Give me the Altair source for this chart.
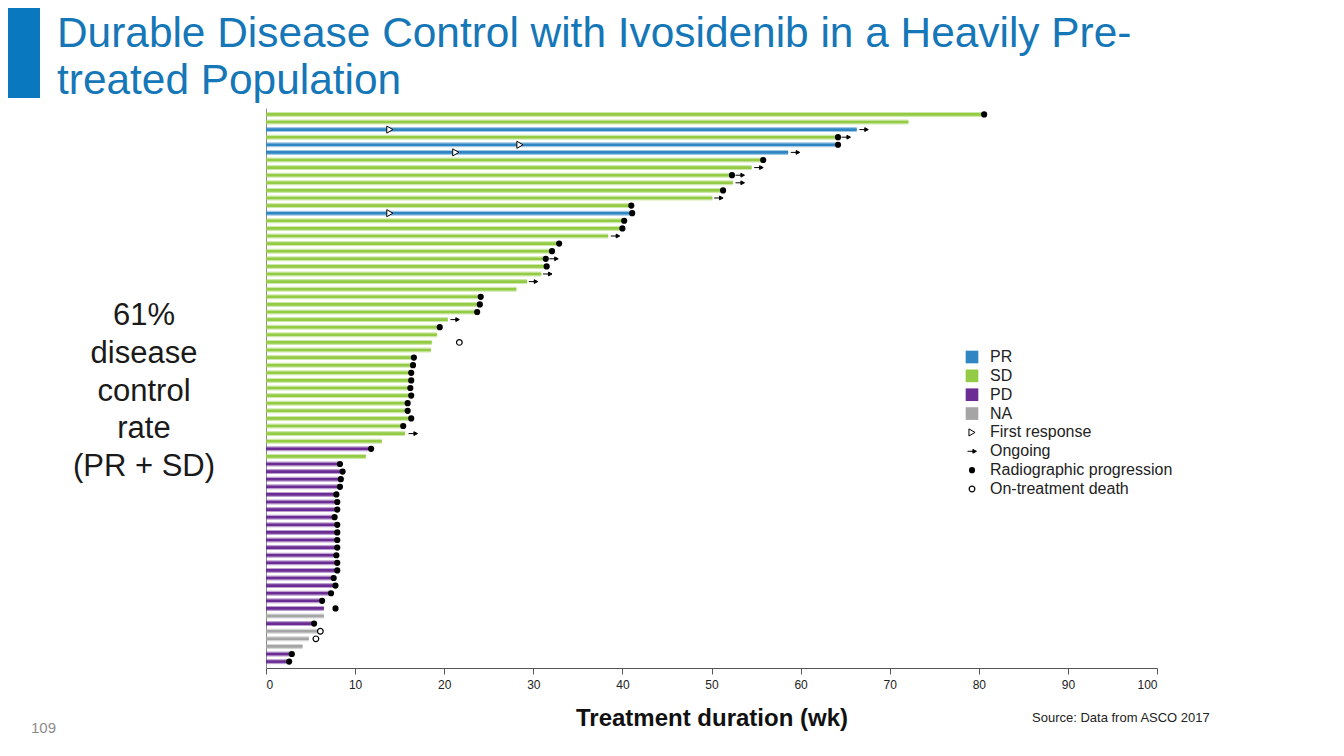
import altair as alt
import pandas as pd

# ---- data (weeks) ----
status = ["SD", "SD", "PR", "SD", "PR", "PR", "SD", "SD", "SD", "SD",
          "SD", "SD", "SD", "PR", "SD", "SD", "SD", "SD", "SD", "SD",
          "SD", "SD", "SD", "SD", "SD", "SD", "SD", "SD", "SD", "SD",
          "SD", "SD", "SD", "SD", "SD", "SD", "SD", "SD", "SD", "SD",
          "SD", "SD", "SD", "SD", "PD", "SD", "PD", "PD", "PD", "PD",
          "PD", "PD", "PD", "PD", "PD", "PD", "PD", "PD", "PD", "PD",
          "PD", "PD", "PD", "PD", "PD", "PD", "NA", "PD", "NA", "NA",
          "NA", "PD", "PD"]
duration = [80.6, 72.1, 66.3, 64.2, 64.2, 58.6, 55.8, 54.5, 52.3, 52.4,
            51.3, 50.1, 41.0, 41.1, 40.2, 40.0, 38.4, 32.9, 32.1, 31.4,
            31.5, 30.9, 29.3, 28.1, 24.1, 24.0, 23.7, 20.4, 19.5, 19.2,
            18.6, 18.5, 16.6, 16.5, 16.3, 16.3, 16.2, 16.3, 15.9, 15.9,
            16.3, 15.4, 15.6, 13.0, 11.8, 11.2, 8.3, 8.6, 8.4, 8.3,
            7.9, 8.0, 8.0, 7.7, 8.0, 8.0, 8.0, 8.0, 7.9, 8.0,
            8.0, 7.6, 7.8, 7.3, 6.2, 6.5, 6.5, 5.4, 5.9, 4.8,
            4.1, 2.9, 2.6]
N = None
progression = [80.6, N, N, 64.2, 64.2, N, 55.8, N, 52.3, N,
               51.3, N, 41.0, 41.1, 40.2, 40.0, N, 32.9, 32.1, 31.4,
               31.5, N, N, N, 24.1, 24.0, 23.7, N, 19.5, N,
               N, N, 16.6, 16.5, 16.3, 16.3, 16.2, 16.3, 15.9, 15.9,
               16.3, 15.4, N, N, 11.8, N, 8.3, 8.6, 8.4, 8.3,
               7.9, 8.0, 8.0, 7.7, 8.0, 8.0, 8.0, 8.0, 7.9, 8.0,
               8.0, 7.6, 7.8, 7.3, 6.3, 7.8, N, 5.4, N, N,
               N, 2.9, 2.6]
ongoing = [N, N, 67.1, 65.1, N, 59.4, N, 55.3, 53.2, 53.2,
           N, 50.8, N, N, N, N, 39.2, N, N, 32.3,
           N, 31.6, 30.0, N, N, N, N, 21.2, N, N,
           N, N, N, N, N, N, N, N, N, N,
           N, N, 16.5, N, N, N, N, N, N, N,
           N, N, N, N, N, N, N, N, N, N,
           N, N, N, N, N, N, N, N, N, N,
           N, N, N]
first_response = [N, N, 13.9, N, 28.5, 21.3, N, N, N, N,
                  N, N, N, 13.9] + [N] * 59
death = [N] * 30 + [21.7] + [N] * 37 + [6.1, 5.6] + [N] * 3

legend_labels = ["PR", "SD", "PD", "NA", "First response", "Ongoing",
                 "Radiographic progression", "On-treatment death"]
status_domain = ["PR", "SD", "PD", "NA"]
status_colors = ["#2F86C3", "#93CB45", "#6B2D94", "#A5A5A5"]

title_lines = ["Durable Disease Control with Ivosidenib in a Heavily Pre-",
               "treated Population"]
side_lines = ["61%", "disease", "control", "rate", "(PR + SD)"]
x_title = "Treatment duration (wk)"
source_text = "Source: Data from ASCO 2017"
page_number = "109"
x_ticks = list(range(0, 101, 10))

df = pd.DataFrame({
    "row": list(range(1, len(status) + 1)),
    "status": status,
    "duration": duration,
    "progression": progression,
    "ongoing": ongoing,
    "first_response": first_response,
    "death": death,
})
leg = pd.DataFrame({"label": legend_labels})

FONT = "Liberation Sans"
W, H = 891, 560
ARROW = "M-1,0L0.25,0M0.2,-0.42L1,0L0.2,0.42Z"

color_scale = alt.Scale(domain=status_domain, range=status_colors)
yenc = alt.Y("row:O", scale=alt.Scale(type="point", padding=0.84),
             axis=alt.Axis(labels=False, ticks=False, title=None, grid=False,
                           domain=True, domainColor="#8a8a8a", domainWidth=1))
xaxis = alt.Axis(values=x_ticks, title=None, grid=False, tickSize=6,
                 labelFontSize=12, labelPadding=5, labelFont=FONT,
                 labelColor="#222", domainColor="#555", tickColor="#555")
xscale = alt.Scale(domain=[0, 100], nice=False)

base = alt.Chart(df)
bars_light = base.mark_bar(size=5, opacity=0.45).encode(
    x=alt.X("duration:Q", scale=xscale, axis=xaxis),
    y=yenc,
    color=alt.Color("status:N", scale=color_scale, legend=None),
)
bars_dark = base.mark_bar(size=2.6).encode(
    x=alt.X("duration:Q", scale=xscale, axis=xaxis),
    y=yenc,
    color=alt.Color("status:N", scale=color_scale, legend=None),
)
tri = base.transform_filter("datum.first_response != null").mark_point(
    shape="triangle-right", size=50, fill="white", stroke="black",
    strokeWidth=1, opacity=1).encode(x="first_response:Q", y=yenc)
arr = base.transform_filter("datum.ongoing != null").mark_point(
    shape=ARROW, size=80, fill="black", stroke="black", strokeWidth=1,
    opacity=1).encode(x="ongoing:Q", y=yenc)
dots = base.transform_filter("datum.progression != null").mark_circle(
    size=38, color="black", opacity=1).encode(x="progression:Q", y=yenc)
deaths = base.transform_filter("datum.death != null").mark_point(
    shape="circle", size=32, fill="white", stroke="black", strokeWidth=1.2,
    opacity=1).encode(x="death:Q", y=yenc)

main = alt.layer(bars_light, bars_dark, tri, arr, dots, deaths)

# ---- legend ----
ly = alt.Y("label:N", scale=alt.Scale(type="point", domain=legend_labels,
                                      range=[249, 381], padding=0), axis=None)
lbase = alt.Chart(leg)
lx_sym = alt.value(706)
leg_sq = lbase.transform_filter(
    alt.FieldOneOfPredicate(field="label", oneOf=status_domain)
).mark_square(size=160, opacity=1).encode(
    x=lx_sym, y=ly,
    color=alt.Color("label:N", scale=color_scale, legend=None))
leg_tri = lbase.transform_filter("datum.label == 'First response'").mark_point(
    shape="triangle-right", size=50, fill="white", stroke="black",
    strokeWidth=1, opacity=1).encode(x=lx_sym, y=ly)
leg_arr = lbase.transform_filter("datum.label == 'Ongoing'").mark_point(
    shape=ARROW, size=80, fill="black", stroke="black", strokeWidth=1,
    opacity=1).encode(x=lx_sym, y=ly)
leg_dot = lbase.transform_filter(
    "datum.label == 'Radiographic progression'").mark_circle(
    size=38, color="black", opacity=1).encode(x=lx_sym, y=ly)
leg_death = lbase.transform_filter(
    "datum.label == 'On-treatment death'").mark_point(
    shape="circle", size=32, fill="white", stroke="black", strokeWidth=1.2,
    opacity=1).encode(x=lx_sym, y=ly)
leg_txt = lbase.mark_text(align="left", baseline="middle", fontSize=16,
                          font=FONT, color="#222").encode(
    x=alt.value(724), y=ly, text="label:N")
legend = alt.layer(leg_sq, leg_tri, leg_arr, leg_dot, leg_death, leg_txt)

# ---- slide texts ----
one = pd.DataFrame({"k": [0]})
tbase = alt.Chart(one)
blue_rect = tbase.mark_rect(color="#0A78BE").encode(
    x=alt.value(-258), x2=alt.value(-226), y=alt.value(-100), y2=alt.value(-10))
title = tbase.mark_text(text=title_lines, align="left", baseline="alphabetic",
                        fontSize=42.4, font=FONT, color="#1577B7",
                        lineHeight=47).encode(x=alt.value(-209), y=alt.value(-61))
side = tbase.mark_text(text=side_lines, align="center", baseline="alphabetic",
                       fontSize=31, font=FONT, color="#1a1a1a",
                       lineHeight=37.8).encode(x=alt.value(-122), y=alt.value(217))
xt = tbase.mark_text(text=x_title, align="center", baseline="alphabetic",
                     fontSize=24, font="Liberation Sans Narrow, " + FONT,
                     fontWeight="bold", color="#111").encode(
    x=alt.value(446), y=alt.value(618))
src = tbase.mark_text(text=source_text, align="left", baseline="alphabetic",
                      fontSize=13, font=FONT, color="#222").encode(
    x=alt.value(766), y=alt.value(614))
pg = tbase.mark_text(text=page_number, align="left", baseline="alphabetic",
                     fontSize=15, font=FONT, color="#8c8c8c").encode(
    x=alt.value(-235), y=alt.value(625))
texts = alt.layer(blue_rect, title, side, xt, src, pg)

chart = alt.layer(main, legend, texts).resolve_scale(
    y="independent"
).properties(
    width=W, height=H,
    padding={"left": 258, "top": 100, "right": 170, "bottom": 70},
    autosize="none",
).configure(background="white").configure_view(stroke=None, strokeWidth=0)

chart.save("out.html", embed_options={"renderer": "svg", "actions": False})
